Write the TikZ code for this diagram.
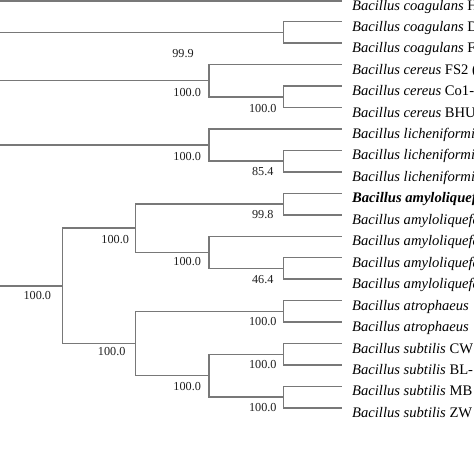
\documentclass[tikz,border=0pt]{standalone}
\usepackage{fontspec}
\setmainfont{Liberation Serif}
\definecolor{branchgray}{RGB}{120,120,120}
\definecolor{labelgray}{RGB}{30,30,30}
\begin{document}
\begin{tikzpicture}[x=1pt,y=-1pt,
  br/.style={draw=branchgray, line width=1.45pt},
  leaf/.style={anchor=base west, inner sep=0pt, text=black, font=\fontsize{14.6}{16}\selectfont},
  bs/.style={inner sep=0pt, text=labelgray, font=\fontsize{12.2}{14}\selectfont}]
\useasboundingbox (0,0) rectangle (474,474);
\clip (0,0) rectangle (474,474);
% tips
\coordinate (t0) at (341.7,1.0);
\coordinate (t1) at (341.7,21.75);
\coordinate (t2) at (341.7,43.2);
\coordinate (t3) at (341.7,64.65);
\coordinate (t4) at (341.7,86.1);
\coordinate (t5) at (341.7,107.55);
\coordinate (t6) at (341.7,129.0);
\coordinate (t7) at (341.7,150.45);
\coordinate (t8) at (341.7,171.9);
\coordinate (t9) at (341.7,193.35);
\coordinate (t10) at (341.7,214.8);
\coordinate (t11) at (341.7,236.25);
\coordinate (t12) at (341.7,257.7);
\coordinate (t13) at (341.7,279.15);
\coordinate (t14) at (341.7,300.6);
\coordinate (t15) at (341.7,322.05);
\coordinate (t16) at (341.7,343.5);
\coordinate (t17) at (341.7,364.95);
\coordinate (t18) at (341.7,386.4);
\coordinate (t19) at (341.7,407.85);
% internal nodes
\coordinate (ncoag) at (283.3,32.48);
\coordinate (ncer2) at (283.3,96.83);
\coordinate (ncer) at (209.2,80.74);
\coordinate (nlic2) at (283.3,161.18);
\coordinate (nlic) at (209.2,145.09);
\coordinate (namyA) at (283.3,204.08);
\coordinate (namyB2) at (283.3,268.43);
\coordinate (namyB) at (209.2,252.34);
\coordinate (namy) at (135.7,228.21);
\coordinate (natro) at (283.3,311.33);
\coordinate (nsub1) at (283.3,354.23);
\coordinate (nsub2) at (283.3,397.13);
\coordinate (nsub) at (209.2,375.68);
\coordinate (nlow) at (135.7,343.5);
\coordinate (nroot) at (62.3,285.86);
% stems entering from the left edge
\coordinate (s0) at (0,1.0);
\coordinate (scoag) at (0,32.48);
\coordinate (scer) at (0,80.74);
\coordinate (slic) at (0,145.09);
\coordinate (sroot) at (0,285.86);
% branches
\draw[br] (s0) -- (t0);
\draw[br] (scoag) -- (ncoag);
\draw[br] (t1) -| (ncoag) |- (t2);
\draw[br] (scer) -- (ncer);
\draw[br] (t3) -| (ncer) |- (ncer2);
\draw[br] (t4) -| (ncer2) |- (t5);
\draw[br] (slic) -- (nlic);
\draw[br] (t6) -| (nlic) |- (nlic2);
\draw[br] (t7) -| (nlic2) |- (t8);
\draw[br] (sroot) -- (nroot);
\draw[br] (namy) -| (nroot) |- (nlow);
\draw[br] (namyA) -| (namy) |- (namyB);
\draw[br] (t9) -| (namyA) |- (t10);
\draw[br] (t11) -| (namyB) |- (namyB2);
\draw[br] (t12) -| (namyB2) |- (t13);
\draw[br] (natro) -| (nlow) |- (nsub);
\draw[br] (t14) -| (natro) |- (t15);
\draw[br] (nsub1) -| (nsub) |- (nsub2);
\draw[br] (t16) -| (nsub1) |- (t17);
\draw[br] (t18) -| (nsub2) |- (t19);
% bootstrap values
\node[bs] (bcoag) at (183,54) {99.9};
\node[bs] (bcer) at ([shift={(-22,12)}]ncer) {100.0};
\node[bs] (bcer2) at ([shift={(-20.5,12)}]ncer2) {100.0};
\node[bs] (blic) at ([shift={(-22,11)}]nlic) {100.0};
\node[bs] (blic2) at ([shift={(-20.5,10)}]nlic2) {85.4};
\node[bs] (bamyA) at ([shift={(-20.5,10.5)}]namyA) {99.8};
\node[bs] (bamy) at ([shift={(-20.5,11)}]namy) {100.0};
\node[bs] (bamyB) at ([shift={(-22,9.5)}]namyB) {100.0};
\node[bs] (bamyB2) at ([shift={(-20.5,11.5)}]namyB2) {46.4};
\node[bs] (broot) at ([shift={(-25,10)}]nroot) {100.0};
\node[bs] (batro) at ([shift={(-20.5,10.5)}]natro) {100.0};
\node[bs] (blow) at ([shift={(-24,8.5)}]nlow) {100.0};
\node[bs] (bsub) at ([shift={(-22,10.5)}]nsub) {100.0};
\node[bs] (bsub1) at ([shift={(-20.5,10.5)}]nsub1) {100.0};
\node[bs] (bsub2) at ([shift={(-20.5,10)}]nsub2) {100.0};
% leaf names
\node[leaf] (l0) at (352,10.5) {\textit{Bacillus coagulans} H};
\node[leaf] (l1) at (352,31.25) {\textit{Bacillus coagulans} D};
\node[leaf] (l2) at (352,52.7) {\textit{Bacillus coagulans} F};
\node[leaf] (l3) at (352,74.15) {\textit{Bacillus cereus} FS2 (};
\node[leaf] (l4) at (352,95.6) {\textit{Bacillus cereus} Co1-};
\node[leaf] (l5) at (352,117.05) {\textit{Bacillus cereus} BHU};
\node[leaf] (l6) at (352,138.5) {\textit{Bacillus licheniformis}};
\node[leaf] (l7) at (352,159.95) {\textit{Bacillus licheniformis}};
\node[leaf] (l8) at (352,181.4) {\textit{Bacillus licheniformis}};
\node[leaf] (l9) at (352,202.85) {\textbf{\textit{Bacillus amyloliquefaciens}}};
\node[leaf] (l10) at (352,224.3) {\textit{Bacillus amyloliquefaciens}};
\node[leaf] (l11) at (352,245.75) {\textit{Bacillus amyloliquefaciens}};
\node[leaf] (l12) at (352,267.2) {\textit{Bacillus amyloliquefaciens}};
\node[leaf] (l13) at (352,288.65) {\textit{Bacillus amyloliquefaciens}};
\node[leaf] (l14) at (352,310.1) {\textit{Bacillus atrophaeus}};
\node[leaf] (l15) at (352,331.55) {\textit{Bacillus atrophaeus}};
\node[leaf] (l16) at (352,353.0) {\textit{Bacillus subtilis} CW};
\node[leaf] (l17) at (352,374.45) {\textit{Bacillus subtilis} BL-};
\node[leaf] (l18) at (352,395.9) {\textit{Bacillus subtilis} MB};
\node[leaf] (l19) at (352,417.35) {\textit{Bacillus subtilis} ZW};
\end{tikzpicture}
\end{document}
